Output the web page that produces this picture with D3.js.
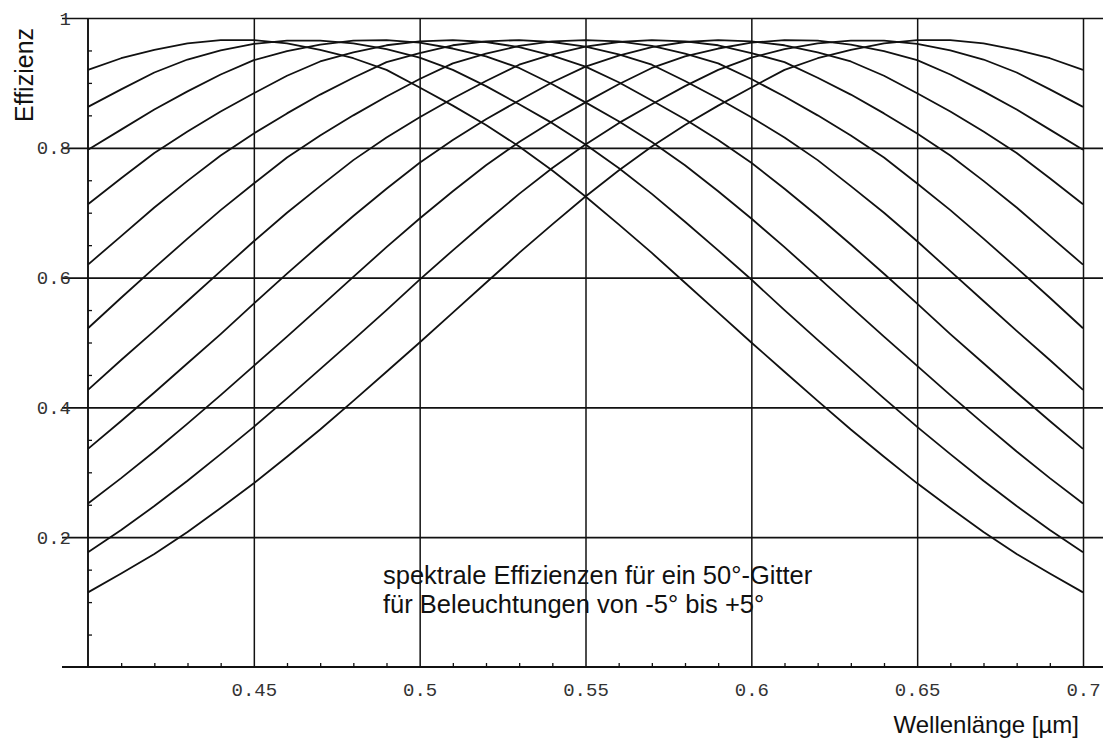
<!DOCTYPE html>
<html>
<head>
<meta charset="utf-8">
<script src="https://cdn.jsdelivr.net/npm/d3@7"></script>
<style>
  html, body { margin: 0; padding: 0; background: #fff; }
  svg { display: block; }
</style>
</head>
<body>
<script>
// ---- data ----
const wavelengths = [0.40,0.41,0.42,0.43,0.44,0.45,0.46,0.47,0.48,0.49,0.50,0.51,0.52,0.53,0.54,0.55,0.56,0.57,0.58,0.59,0.60,0.61,0.62,0.63,0.64,0.65,0.66,0.67,0.68,0.69,0.70];
const effMinus5 = [0.920,0.938,0.951,0.961,0.966,0.966,0.961,0.951,0.938,0.920,0.893,0.865,0.835,0.802,0.765,0.725,0.682,0.638,0.592,0.546,0.500,0.455,0.410,0.366,0.324,0.283,0.245,0.208,0.174,0.144,0.115];
const effMinus4 = [0.863,0.890,0.916,0.936,0.950,0.960,0.965,0.965,0.961,0.952,0.939,0.920,0.895,0.867,0.838,0.805,0.769,0.729,0.686,0.642,0.597,0.550,0.504,0.459,0.414,0.370,0.328,0.287,0.248,0.211,0.177];
const effMinus3 = [0.797,0.828,0.859,0.887,0.913,0.935,0.949,0.959,0.965,0.966,0.962,0.953,0.941,0.923,0.898,0.870,0.841,0.809,0.773,0.733,0.691,0.647,0.601,0.555,0.509,0.464,0.419,0.375,0.332,0.291,0.252];
const effMinus2 = [0.713,0.753,0.792,0.825,0.856,0.884,0.911,0.933,0.947,0.958,0.964,0.966,0.963,0.955,0.942,0.925,0.901,0.873,0.844,0.812,0.777,0.737,0.695,0.651,0.606,0.560,0.513,0.468,0.423,0.379,0.336];
const effMinus1 = [0.620,0.664,0.708,0.749,0.788,0.822,0.853,0.882,0.908,0.932,0.946,0.958,0.964,0.966,0.963,0.956,0.944,0.928,0.903,0.876,0.847,0.816,0.781,0.741,0.700,0.656,0.610,0.564,0.518,0.473,0.427];
const eff0      = [0.522,0.569,0.615,0.660,0.704,0.745,0.785,0.819,0.850,0.879,0.906,0.930,0.945,0.957,0.964,0.966,0.964,0.957,0.945,0.930,0.906,0.879,0.850,0.819,0.785,0.745,0.704,0.660,0.615,0.569,0.522];
const effPlus1  = [0.427,0.473,0.518,0.564,0.610,0.656,0.700,0.741,0.781,0.816,0.847,0.876,0.903,0.928,0.944,0.956,0.963,0.966,0.964,0.958,0.946,0.932,0.908,0.882,0.853,0.822,0.788,0.749,0.708,0.664,0.620];
const effPlus2  = [0.336,0.379,0.423,0.468,0.513,0.560,0.606,0.651,0.695,0.737,0.777,0.812,0.844,0.873,0.901,0.925,0.942,0.955,0.963,0.966,0.964,0.958,0.947,0.933,0.911,0.884,0.856,0.825,0.792,0.753,0.713];
const effPlus3  = [0.252,0.291,0.332,0.375,0.419,0.464,0.509,0.555,0.601,0.647,0.691,0.733,0.773,0.809,0.841,0.870,0.898,0.923,0.941,0.953,0.962,0.966,0.965,0.959,0.949,0.935,0.913,0.887,0.859,0.828,0.797];
const effPlus4  = [0.177,0.211,0.248,0.287,0.328,0.370,0.414,0.459,0.504,0.550,0.597,0.642,0.686,0.729,0.769,0.805,0.838,0.867,0.895,0.920,0.939,0.952,0.961,0.965,0.965,0.960,0.950,0.936,0.916,0.890,0.863];
const effPlus5  = [0.115,0.144,0.174,0.208,0.245,0.283,0.324,0.366,0.410,0.455,0.500,0.546,0.592,0.638,0.682,0.725,0.765,0.802,0.835,0.865,0.893,0.920,0.938,0.951,0.961,0.966,0.966,0.961,0.951,0.938,0.920];
const seriesList = [effMinus5,effMinus4,effMinus3,effMinus2,effMinus1,eff0,effPlus1,effPlus2,effPlus3,effPlus4,effPlus5];

const xMajorTicks = [0.45,0.5,0.55,0.6,0.65,0.7];
const xTickLabels = ["0.45","0.5","0.55","0.6","0.65","0.7"];
const yMajorTicks = [0.2,0.4,0.6,0.8,1];
const yTickLabels = ["0.2","0.4","0.6","0.8","1"];
const yAxisTitle = "Effizienz";
const xAxisTitle = "Wellenlänge [µm]";
const noteLines = ["spektrale Effizienzen für ein 50°-Gitter","für Beleuchtungen von -5° bis +5°"];

// ---- layout ----
const W = 1103, H = 742;
const x = d3.scaleLinear().domain([0.4, 0.7]).range([88, 1083]);
const y = d3.scaleLinear().domain([0, 1]).range([667, 18]);
const lineLeft = 62, lineRight = 1103;
const ink = "#111";
const monoFont = "'Liberation Mono', 'DejaVu Sans Mono', monospace";
const sansFont = "Arial, 'Liberation Sans', sans-serif";

const svg = d3.select("body").append("svg").attr("width", W).attr("height", H);
svg.append("rect").attr("width", W).attr("height", H).attr("fill", "#fff");

// horizontal grid lines (with y labels)
const yAxis = d3.axisLeft(y).tickValues(yMajorTicks)
  .tickFormat((d, i) => yTickLabels[i])
  .tickSizeInner(-(lineRight - lineLeft)).tickSizeOuter(0).tickPadding(-9);
const gy = svg.append("g").attr("transform", `translate(${lineLeft},0)`).call(yAxis);
gy.select(".domain").remove();
gy.selectAll(".tick line").attr("stroke", ink).attr("stroke-width", 1.7);
gy.selectAll(".tick text").attr("font-family", monoFont)
  .attr("font-size", 19).attr("fill", "#333").attr("text-anchor", "end");

// vertical grid lines (with x labels)
const xAxis = d3.axisBottom(x).tickValues(xMajorTicks)
  .tickFormat((d, i) => xTickLabels[i])
  .tickSizeInner(-(y(0) - y(1))).tickSizeOuter(0).tickPadding(16);
const gx = svg.append("g").attr("transform", `translate(0,${y(0)})`).call(xAxis);
gx.select(".domain").remove();
gx.selectAll(".tick line").attr("stroke", ink).attr("stroke-width", 1.5);
gx.selectAll(".tick text").attr("font-family", monoFont)
  .attr("font-size", 19).attr("fill", "#333");

// bottom axis line and y axis line
svg.append("line").attr("x1", lineLeft).attr("x2", lineRight).attr("y1", y(0)).attr("y2", y(0))
  .attr("stroke", ink).attr("stroke-width", 1.9);
svg.append("line").attr("x1", x(0.4)).attr("x2", x(0.4)).attr("y1", y(0)).attr("y2", y(1))
  .attr("stroke", ink).attr("stroke-width", 1.9);

// minor ticks
const xMinor = d3.range(41, 70).map(v => v / 100).filter(v => Math.round(v * 100) % 5 !== 0);
const gxm = svg.append("g").attr("transform", `translate(0,${y(0)})`)
  .call(d3.axisBottom(x).tickValues(xMinor).tickSizeInner(-4).tickSizeOuter(0).tickFormat(""));
gxm.select(".domain").remove();
gxm.selectAll(".tick line").attr("stroke", ink).attr("stroke-width", 1.3);

const yMinor = d3.range(1, 20).map(v => v / 20).filter(v => v * 20 % 4 !== 0);
const gym = svg.append("g").attr("transform", `translate(${x(0.4)},0)`)
  .call(d3.axisRight(y).tickValues(yMinor).tickSizeInner(4).tickSizeOuter(0).tickFormat(""));
gym.select(".domain").remove();
gym.selectAll(".tick line").attr("stroke", ink).attr("stroke-width", 1.3);

// curves
const line = d3.line().x((d, i) => x(wavelengths[i])).y(d => y(d));
svg.append("g").selectAll("path").data(seriesList).join("path")
  .attr("d", line).attr("fill", "none").attr("stroke", ink)
  .attr("stroke-width", 1.8).attr("stroke-linejoin", "round");

// titles
svg.append("text").attr("transform", "translate(33,122) rotate(-90)")
  .attr("font-family", sansFont).attr("font-size", 25)
  .attr("fill", ink).text(yAxisTitle);
svg.append("text").attr("x", 1079).attr("y", 733).attr("text-anchor", "end")
  .attr("font-family", sansFont).attr("font-size", 24)
  .attr("fill", ink).text(xAxisTitle);

// annotation
svg.append("g").selectAll("text").data(noteLines).join("text")
  .attr("x", 383).attr("y", (d, i) => 584 + i * 29)
  .attr("font-family", sansFont).attr("font-size", 25.5)
  .attr("fill", ink).text(d => d);
</script>
</body>
</html>
